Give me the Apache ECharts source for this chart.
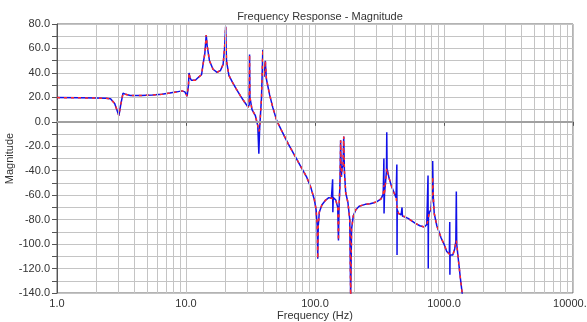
<!DOCTYPE html>
<html>
<head>
<meta charset="utf-8">
<script src="https://cdn.jsdelivr.net/npm/echarts@6/dist/echarts.min.js"></script>
<style>
  html, body { margin: 0; padding: 0; background: #fff; }
  #chart { width: 587px; height: 322px; }
</style>
</head>
<body>
<div id="chart"></div>
<script>
// frequency points (Hz)
const freq = [
  1, 1.5, 2, 2.4, 2.6, 2.8, 2.95, 3.02, 3.12, 3.25, 3.4, 3.7, 4.5, 5.5, 6.5, 7.5, 8.5, 9.3, 9.8, 10.2,
  10.35, 10.45, 10.55, 10.75, 11.0, 11.8, 12.5, 13.2, 13.4, 13.6, 14.0, 14.35, 14.6, 15.2, 16.2, 17.4, 18.5, 19.4, 19.9, 20.3,
  20.6, 21.5, 23, 24.5, 26.5, 28.5, 30.3, 30.9, 31.1, 31.3, 32.5, 34.5, 36, 36.7, 37.2, 38.5, 39.4, 39.9, 40.4, 41.2,
  42, 44.5, 47, 50.5, 55, 62, 70, 78, 86, 93, 99, 102, 104, 105, 106, 108, 113, 121, 128, 134,
  136.5, 137, 137.5, 138.5, 145, 150, 152, 153.5, 156, 158, 160, 162, 165, 167, 169, 173, 180, 186, 189, 192,
  198, 207, 220, 245, 268, 300, 325, 338, 342, 343, 346, 352, 358, 360, 362, 375, 390, 410, 425, 431,
  432.5, 434, 445, 465, 473, 476, 527, 600, 650, 705, 735, 752, 755, 758, 770, 790, 805, 817, 825, 840,
  880, 950, 1000, 1050, 1100, 1108, 1111, 1115, 1170, 1210, 1235, 1246, 1255, 1290, 1340, 1390
];
// measured magnitude (blue)
const magBlue = [
  19.8, 19.6, 19.4, 19.2, 18.8, 15, 8, 5, 14, 23.5, 22.5, 21.5, 21.5, 22, 22.5, 23.5, 24.5, 25.3, 24.5, 21,
  20, 30, 40, 36, 34, 34, 36.5, 38.5, 37.5, 48, 56, 71, 62, 50, 43, 40.5, 42, 47, 60, 78,
  50, 38, 32, 27, 21, 16, 12, 14, 55, 20, 10, 5, -3, -26, -6, 20, 59, 45, 37, 50,
  35, 22, 12, 1, -7, -18, -28, -37, -45, -54, -64, -72, -85, -112, -85, -74, -68, -64, -62, -62.5,
  -64, -47, -74, -62, -64, -70, -97, -70, -52, -15, -45, -38, -36, -12, -40, -58, -66, -80, -145, -88,
  -77, -72, -69, -67.5, -67, -65.5, -63, -59, -30, -75, -58, -50, -40, -8.5, -38, -46, -52, -58, -62, -35,
  -109, -72, -75, -76, -70, -77, -79, -83, -85, -86, -84, -44, -120, -78, -74, -72, -62, -32, -60, -75,
  -85, -95, -100, -106, -108, -82, -125, -109, -109, -104, -98, -57, -100, -112, -128, -142
];
// model magnitude (red)
const magRed = [
  19.8, 19.6, 19.4, 19.2, 18.8, 15, 8, 5, 14, 23.5, 22.5, 21.5, 21.5, 22, 22.5, 23.5, 24.5, 25.3, 24.5, 21,
  20, 30, 40, 36, 34, 34, 36.5, 38.5, 37.5, 48, 56, 71, 62, 50, 43, 40.5, 42, 47, 60, 78,
  50, 38, 32, 27, 21, 16, 12, 14, 55, 20, 10, 5, -3, -8, -6, 20, 59, 45, 37, 50,
  35, 22, 12, 1, -7, -18, -28, -37, -45, -54, -64, -72, -85, -112, -85, -74, -68, -64, -62, -62.5,
  -64, -62, -64, -62, -64, -70, -97, -70, -52, -15, -45, -38, -36, -12, -40, -58, -66, -80, -145, -88,
  -77, -72, -69, -67.5, -67, -65.5, -63, -59, -52, -60, -58, -50, -42, -38, -40, -46, -52, -58, -62, -63,
  -68, -72, -75, -76, -76, -77, -79, -83, -85, -86, -84, -83, -80, -78, -74, -72, -62, -45, -60, -75,
  -85, -95, -100, -106, -108, -108, -108, -109, -109, -104, -99, -97, -100, -112, -128, -142
];
const minorFreqs = [];
[1, 10, 100, 1000].forEach(d => { for (let k = 2; k <= 9; k++) minorFreqs.push(k * d); });

const pair = (ys) => freq.map((f, i) => [f, ys[i]]);

const chart = echarts.init(document.getElementById('chart'), null, { renderer: 'canvas' });
const gray = '#c4c4c4';
chart.setOption({
  animation: false,
  backgroundColor: '#fff',
  title: {
    text: 'Frequency Response - Magnitude',
    left: 315, top: 6, textAlign: 'center',
    textStyle: { fontFamily: 'Liberation Sans', fontSize: 11, fontWeight: 'normal', color: '#333' }
  },
  grid: {
    left: 57, top: 24, right: 14, bottom: 29, containLabel: false, outerBoundsMode: 'none',
    show: true, borderColor: '#666', borderWidth: 1, backgroundColor: '#fff'
  },
  xAxis: {
    type: 'log', logBase: 10, min: 1, max: 10000,
    name: 'Frequency (Hz)', nameLocation: 'middle', nameGap: 17, nameMoveOverlap: false,
    nameTextStyle: { fontFamily: 'Liberation Sans', fontSize: 11, color: '#333', verticalAlign: 'top' },
    axisLine: { lineStyle: { color: '#555' } },
    axisTick: { show: true, length: 4, lineStyle: { color: '#555' } },
    axisLabel: { fontFamily: 'Liberation Sans', fontSize: 11, color: '#333', margin: 5,
      formatter: v => Number(v).toFixed(1) },
    splitLine: { show: true, lineStyle: { color: gray, width: 1 } }
  },
  yAxis: {
    type: 'value', min: -140, max: 80, interval: 10,
    name: 'Magnitude', nameLocation: 'middle', nameGap: 42, nameRotate: 90, nameMoveOverlap: false,
    nameTextStyle: { fontFamily: 'Liberation Sans', fontSize: 11, color: '#333' },
    axisLine: { show: true, lineStyle: { color: '#555' } },
    axisTick: { show: true, length: 5, lineStyle: { color: '#555' } },
    axisLabel: { fontFamily: 'Liberation Sans', fontSize: 11, color: '#333', margin: 7,
      formatter: v => (v % 20 === 0 ? v.toFixed(1) : '') },
    splitLine: { show: true, lineStyle: { color: gray, width: 1 } }
  },
  series: [
    {
      name: 'grid', type: 'line', data: [], z: 1, silent: true,
      markLine: {
        silent: true, symbol: 'none', label: { show: false }, animation: false,
        data: minorFreqs.map(f => ({ xAxis: f, lineStyle: { color: gray, width: 1, type: 'solid' } }))
          .concat([{ yAxis: 0, lineStyle: { color: '#a0a0a0', width: 2, type: 'solid' } }])
      }
    },
    {
      name: 'Measured', type: 'line', data: pair(magBlue), z: 3,
      showSymbol: false, symbol: 'none', clip: true,
      lineStyle: { color: '#1010e8', width: 1.5 }
    },
    {
      name: 'Model', type: 'line', data: pair(magRed), z: 4,
      showSymbol: false, symbol: 'none', clip: true,
      lineStyle: { color: '#ff2a2a', width: 1.5, type: [3, 4] }
    }
  ]
});
</script>
</body>
</html>
